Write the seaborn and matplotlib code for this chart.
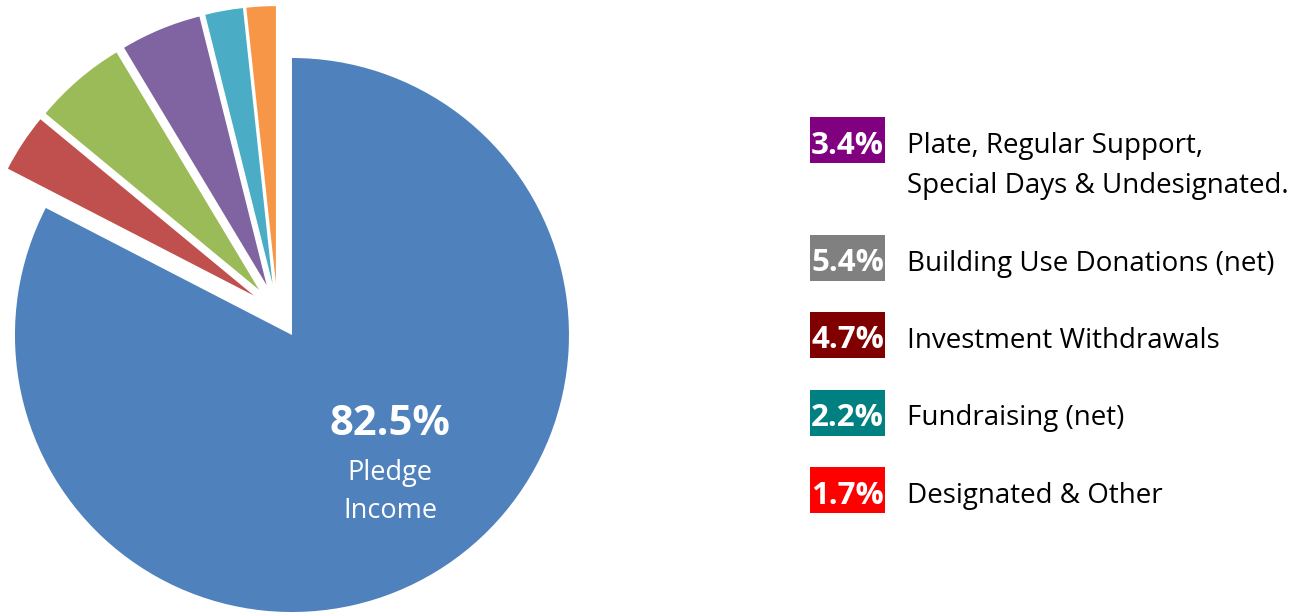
import matplotlib
matplotlib.use("Agg")
import matplotlib.pyplot as plt
from matplotlib.patches import Rectangle
import seaborn as sns

# pie slices, clockwise from 12 o'clock
slice_names = ['Pledge Income', 'Plate, Regular Support', 'Building Use',
               'Investment', 'Fundraising', 'Designated & Other']
slice_values = [82.5, 3.4, 5.4, 4.7, 2.2, 1.7]
slice_colors = ['#4F81BD', '#C0504D', '#9BBB59', '#8064A2', '#4BACC6', '#F79646']

# legend on the right
legend_pcts = ['3.4%', '5.4%', '4.7%', '2.2%', '1.7%']
legend_labels = ['Plate, Regular Support,\nSpecial Days & Undesignated.',
                 'Building Use Donations (net)',
                 'Investment Withdrawals',
                 'Fundraising (net)',
                 'Designated & Other']
legend_colors = ['#800080', '#808080', '#800000', '#008080', '#FF0000']

sns.set_theme(style='white')
plt.rcParams['font.family'] = ['Open Sans', 'DejaVu Sans']

W, H = 1301, 616
fig = plt.figure(figsize=(W / 100, H / 100), dpi=100)
ax = fig.add_axes([0, 0, 1, 1])

# work in pixel units: y measured from the top
def py(y):
    return H - y

ax.pie(slice_values, colors=slice_colors, startangle=90, counterclock=False,
       center=(277.4, py(311.1)), radius=277, explode=[28] * len(slice_values),
       wedgeprops=dict(linewidth=0), frame=True)
ax.set_xlim(0, W)
ax.set_ylim(0, H)
ax.set_aspect('equal')
ax.axis('off')

ax.text(390, py(435), '82.5%', color='white', fontsize=30, fontweight='bold',
        ha='center', va='baseline')
ax.text(390, py(480), 'Pledge', color='white', fontsize=19.5, ha='center', va='baseline')
ax.text(390, py(518), 'Income', color='white', fontsize=19.5, ha='center', va='baseline')

# legend boxes
extra = 0
for i, (pct, lab, col) in enumerate(zip(legend_pcts, legend_labels, legend_colors)):
    top = 117 + 77.5 * i + 40 * extra
    ax.add_patch(Rectangle((810, py(top + 46)), 75, 46, color=col, lw=0))
    ax.text(847.5, py(top + 36.5), pct, color='white', fontsize=22.5, fontweight='bold',
            ha='center', va='baseline')
    for j, line in enumerate(lab.split('\n')):
        ax.text(907, py(top + 36 + 40 * j), line, color='black', fontsize=20,
                ha='left', va='baseline')
    extra += lab.count('\n')

fig.savefig('out.png', dpi=100)
